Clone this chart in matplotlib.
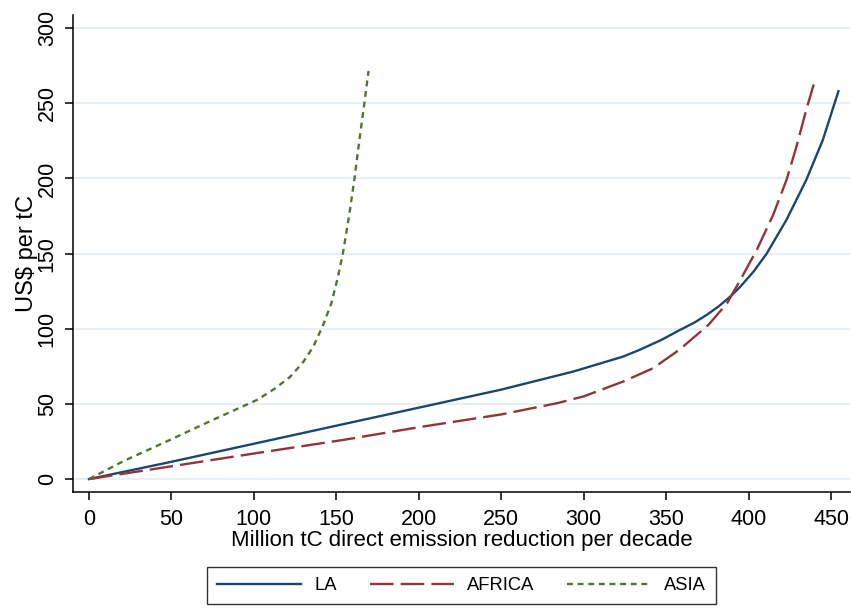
import matplotlib.pyplot as plt

plt.rcParams['font.family'] = ['Liberation Sans', 'DejaVu Sans']

# Marginal abatement cost curves by region (US$ per tC vs. million tC)
la_x = [0, 50, 100, 150, 200, 250, 293.6, 324, 334, 347, 358, 367, 375, 382, 389, 395, 403, 411, 423, 435, 445, 454.5]
la_y = [0, 11.5, 23.5, 35.5, 47.5, 59.5, 71.5, 81.5, 86, 92.5, 99, 104, 109.5, 115, 121.5, 128, 138, 150, 172.5, 199, 225.5, 258]

africa_x = [0, 50, 100, 154, 200, 250, 284, 300, 324, 342, 358, 375.6, 387, 395, 405, 415, 423, 429, 435, 439.5]
africa_y = [0, 8.5, 17, 26, 34.5, 43, 50.5, 55, 64.9, 73.7, 86, 102.5, 117, 132.5, 152.5, 176, 199, 221, 245.7, 262.5]

asia_x = [0, 21, 49, 75, 102, 113, 122, 130, 136, 142, 147, 151, 154, 158, 161, 164, 167, 169.5]
asia_y = [0, 12, 26, 39.3, 52.7, 60.4, 68, 78, 88, 102.5, 117, 134.7, 150.3, 177, 200, 225.7, 250, 271.5]

x_ticks = [0, 50, 100, 150, 200, 250, 300, 350, 400, 450]
y_ticks = [0, 50, 100, 150, 200, 250, 300]

fig = plt.figure(figsize=(8.51, 6.08), dpi=100)
ax = fig.add_axes([0.0858, 0.1908, 0.9130, 0.7845])

for y in y_ticks:
    ax.axhline(y, color='#e6eef1', lw=1.3, zorder=0)

ax.plot(la_x, la_y, color='#1a476f', lw=1.7, label='LA')
ax.plot(africa_x, africa_y, color='#90353b', lw=1.7, linestyle=(0, (10, 3)), label='AFRICA')
ax.plot(asia_x, asia_y, color='#55752f', lw=1.7, linestyle=(0, (2.5, 2)), label='ASIA')

ax.set_xlim(-9.7, 461.5)
ax.set_ylim(-8.6, 308.7)
ax.set_xticks(x_ticks)
ax.set_yticks(y_ticks)
ax.tick_params(axis='both', direction='out', length=6, width=1.1, labelsize=15.5, color='black')
ax.tick_params(axis='y', pad=5)
ax.tick_params(axis='x', pad=6)
plt.setp(ax.get_yticklabels(), rotation=90, va='center')

ax.spines['top'].set_visible(False)
ax.spines['right'].set_visible(False)
ax.spines['left'].set_linewidth(1.1)
ax.spines['bottom'].set_linewidth(1.1)

ax.set_xlabel('Million tC direct emission reduction per decade', fontsize=16, labelpad=0)
ax.set_ylabel('US$ per tC', fontsize=17, labelpad=-1)

leg = fig.legend(loc='center', bbox_to_anchor=(461.5 / 851, 1 - 585.5 / 608), ncol=3, fontsize=13.2,
                 frameon=True, fancybox=False, edgecolor='black', handlelength=4.6,
                 columnspacing=1.8, handletextpad=0.7, borderpad=0.55)
leg.get_frame().set_linewidth(1.0)

fig.savefig('out.png', dpi=100, facecolor='white')
